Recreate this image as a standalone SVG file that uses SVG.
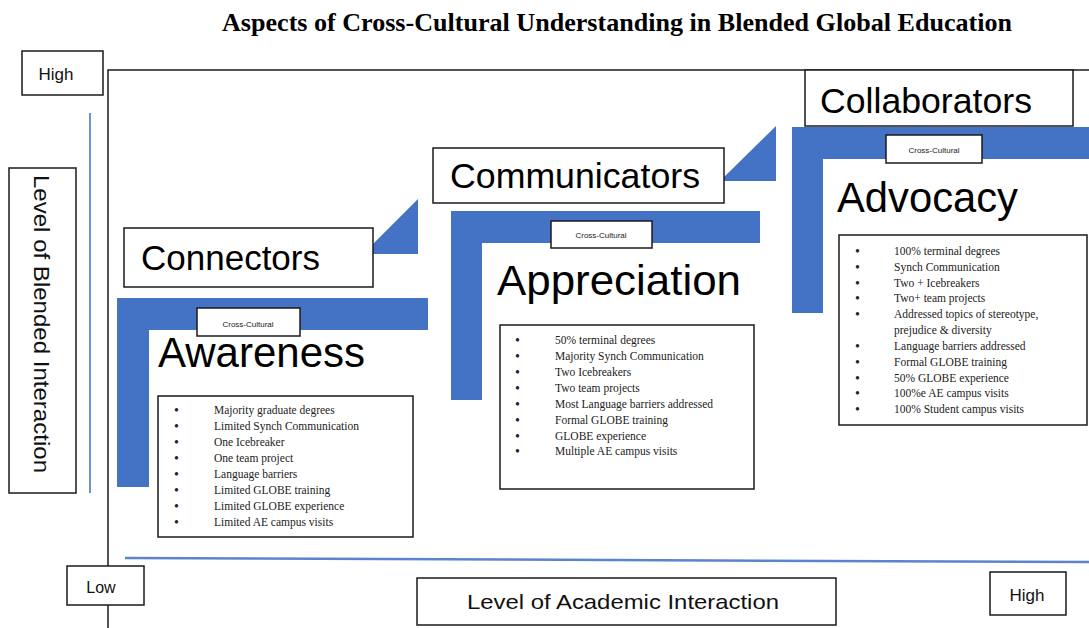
<svg xmlns="http://www.w3.org/2000/svg" width="1089" height="628" viewBox="0 0 1089 628">
<style>
.box{fill:#fff;stroke:#1a1a1a;stroke-width:1.5}
.blue{fill:#4472c4}
.big{font-family:"Liberation Sans",Arial,sans-serif;fill:#000}
.cc{font-family:"Liberation Sans",Arial,sans-serif;font-size:8px;fill:#222;text-anchor:middle}
.bl{font-family:"Liberation Serif","Times New Roman",serif;font-size:11.5px;fill:#222}
.bu{font-size:14px}
.ax{font-family:"Liberation Sans",Arial,sans-serif;fill:#111}
</style>
<rect width="1089" height="628" fill="#fff"/>
<text x="617" y="31" font-family="Liberation Serif,'Times New Roman',serif" font-weight="bold" font-size="25" text-anchor="middle" textLength="790" lengthAdjust="spacingAndGlyphs" fill="#000">Aspects of Cross-Cultural Understanding in Blended Global Education</text>

<g id="frame">
<polyline points="108,628 108,70 1089,70" fill="none" stroke="#1a1a1a" stroke-width="1.5"/>
</g>

<g id="connectors">
<line x1="90" y1="113" x2="90" y2="493" stroke="#6f93d8" stroke-width="2"/>
<line x1="125" y1="558" x2="1089" y2="562" stroke="#5b84cf" stroke-width="2.5"/>
<polygon class="blue" points="418,199 418,254 363,254"/>
<polygon class="blue" points="776,126 776,181 720,181"/>
</g>

<g id="axis-high-top">
<rect class="box" x="22" y="51" width="81" height="44"/>
<text class="ax" x="56" y="80" font-size="17" text-anchor="middle">High</text>
</g>
<g id="axis-y-label">
<rect class="box" x="9" y="168" width="67" height="325"/>
<text class="ax" transform="translate(34,324) rotate(90)" font-size="22" text-anchor="middle" textLength="298" lengthAdjust="spacingAndGlyphs">Level of Blended Interaction</text>
</g>
<g id="axis-low">
<rect class="box" x="67" y="566" width="77" height="39"/>
<text class="ax" x="101" y="593" font-size="16" text-anchor="middle">Low</text>
</g>
<g id="axis-x-label">
<rect class="box" x="417" y="578" width="419" height="47"/>
<text class="ax" x="623" y="609" font-size="21" text-anchor="middle" textLength="312" lengthAdjust="spacingAndGlyphs">Level of Academic Interaction</text>
</g>
<g id="axis-high-right">
<rect class="box" x="990" y="572" width="76" height="43"/>
<text class="ax" x="1027" y="601" font-size="17" text-anchor="middle">High</text>
</g>

<g id="step-awareness">
<polygon class="blue" points="117,298 428,298 428,330 149,330 149,487 117,487"/>
<rect class="box" x="124" y="228" width="249" height="59"/>
<text class="big" x="141" y="270" font-size="35" textLength="179" lengthAdjust="spacingAndGlyphs">Connectors</text>
<rect class="box" x="197" y="308" width="103" height="28"/>
<text class="cc" x="248" y="327">Cross-Cultural</text>
<text class="big" x="158" y="367" font-size="42" textLength="207" lengthAdjust="spacingAndGlyphs">Awareness</text>
<rect class="box" x="158" y="396" width="255" height="141"/>
<g class="bl">
<text class="bu" x="174" y="415">•</text><text x="214" y="414">Majority graduate degrees</text>
<text class="bu" x="174" y="431">•</text><text x="214" y="430">Limited Synch Communication</text>
<text class="bu" x="174" y="447">•</text><text x="214" y="446">One Icebreaker</text>
<text class="bu" x="174" y="463">•</text><text x="214" y="462">One team project</text>
<text class="bu" x="174" y="479">•</text><text x="214" y="478">Language barriers</text>
<text class="bu" x="174" y="495">•</text><text x="214" y="494">Limited GLOBE training</text>
<text class="bu" x="174" y="511">•</text><text x="214" y="510">Limited GLOBE experience</text>
<text class="bu" x="174" y="527">•</text><text x="214" y="526">Limited AE campus visits</text>
</g>
</g>

<g id="step-appreciation">
<polygon class="blue" points="451,211 760,211 760,243 482,243 482,400 451,400"/>
<rect class="box" x="433" y="148" width="291" height="55"/>
<text class="big" x="450" y="188" font-size="35" textLength="250" lengthAdjust="spacingAndGlyphs">Communicators</text>
<rect class="box" x="551" y="221" width="101" height="27"/>
<text class="cc" x="601" y="238">Cross-Cultural</text>
<text class="big" x="497" y="295" font-size="43" textLength="244" lengthAdjust="spacingAndGlyphs">Appreciation</text>
<rect class="box" x="500" y="325" width="254" height="164"/>
<g class="bl">
<text class="bu" x="515" y="345">•</text><text x="555" y="344">50% terminal degrees</text>
<text class="bu" x="515" y="361">•</text><text x="555" y="360">Majority Synch Communication</text>
<text class="bu" x="515" y="377">•</text><text x="555" y="376">Two Icebreakers</text>
<text class="bu" x="515" y="393">•</text><text x="555" y="392">Two team projects</text>
<text class="bu" x="515" y="409">•</text><text x="555" y="408">Most Language barriers addressed</text>
<text class="bu" x="515" y="425">•</text><text x="555" y="424">Formal GLOBE training</text>
<text class="bu" x="515" y="441">•</text><text x="555" y="440">GLOBE experience</text>
<text class="bu" x="515" y="456">•</text><text x="555" y="455">Multiple AE campus visits</text>
</g>
</g>

<g id="step-advocacy">
<polygon class="blue" points="792,127 1089,127 1089,159 823,159 823,313 792,313"/>
<rect class="box" x="805" y="70" width="268" height="56"/>
<text class="big" x="820" y="113" font-size="35.5" textLength="212" lengthAdjust="spacingAndGlyphs">Collaborators</text>
<rect class="box" x="886" y="135" width="96" height="28"/>
<text class="cc" x="934" y="153">Cross-Cultural</text>
<text class="big" x="837" y="212" font-size="42" textLength="181" lengthAdjust="spacingAndGlyphs">Advocacy</text>
<rect class="box" x="839" y="235" width="248" height="190"/>
<g class="bl">
<text class="bu" x="855" y="256">•</text><text x="894" y="255">100% terminal degrees</text>
<text class="bu" x="855" y="272">•</text><text x="894" y="271">Synch Communication</text>
<text class="bu" x="855" y="288">•</text><text x="894" y="287">Two + Icebreakers</text>
<text class="bu" x="855" y="303">•</text><text x="894" y="302">Two+ team projects</text>
<text class="bu" x="855" y="319">•</text><text x="894" y="318">Addressed topics of stereotype,</text>
<text x="894" y="334">prejudice &amp; diversity</text>
<text class="bu" x="855" y="351">•</text><text x="894" y="350">Language barriers addressed</text>
<text class="bu" x="855" y="367">•</text><text x="894" y="366">Formal GLOBE training</text>
<text class="bu" x="855" y="383">•</text><text x="894" y="382">50% GLOBE experience</text>
<text class="bu" x="855" y="398">•</text><text x="894" y="397">100%e AE campus visits</text>
<text class="bu" x="855" y="414">•</text><text x="894" y="413">100% Student campus visits</text>
</g>
</g>
</svg>
